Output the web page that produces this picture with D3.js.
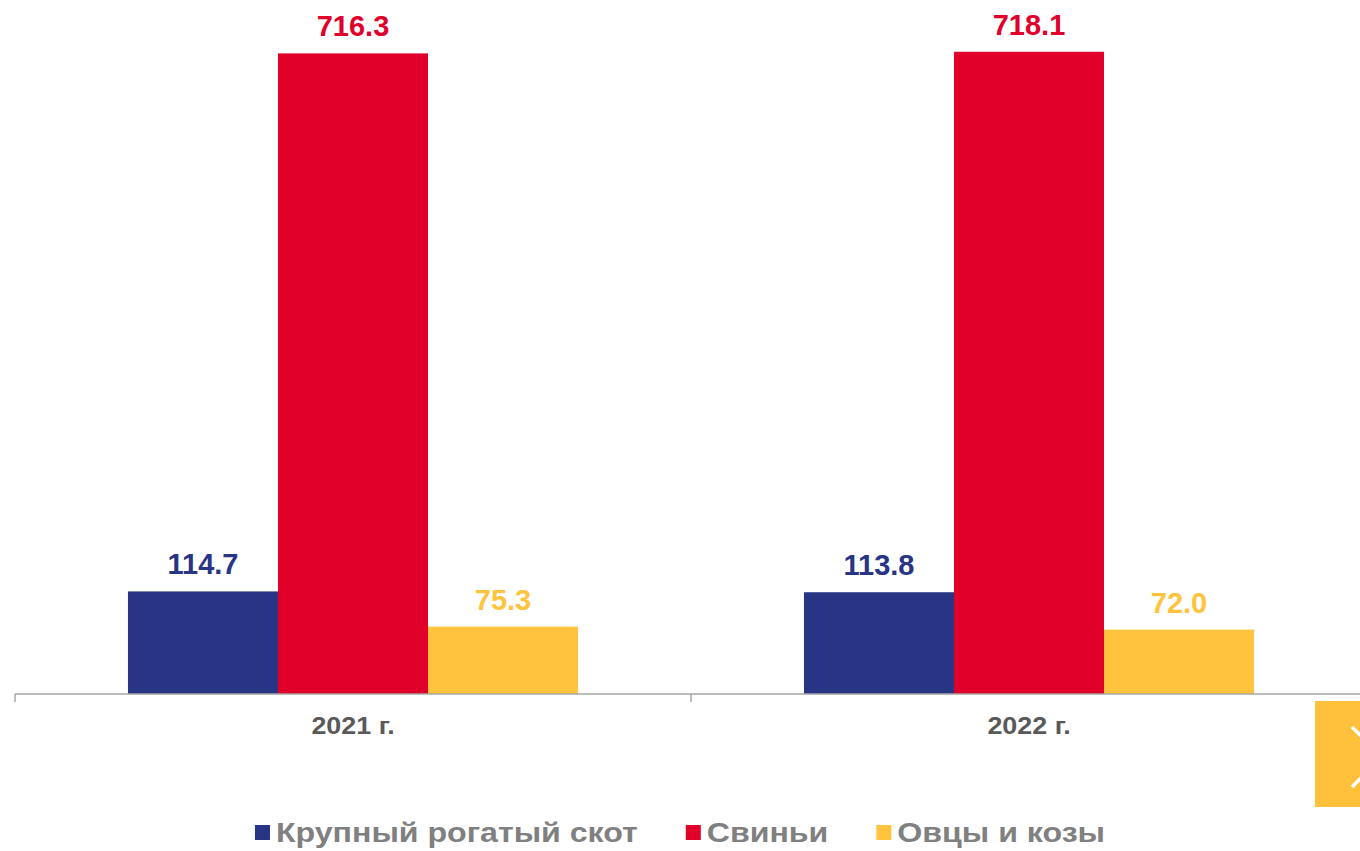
<!DOCTYPE html>
<html>
<head>
<meta charset="utf-8">
<script src="https://cdn.jsdelivr.net/npm/d3@7"></script>
<style>
  body { margin: 0; background: #fff; }
  svg { display: block; font-family: "Liberation Sans", Arial, sans-serif; }
</style>
</head>
<body>
<div id="chart"></div>
<script>
// chart data
const years = ["2021 г.", "2022 г."];
const seriesNames = ["Крупный рогатый скот", "Свиньи", "Овцы и козы"];
const seriesValues = [
  [114.7, 113.8],   // КРС
  [716.3, 718.1],   // свиньи
  [75.3, 72.0]      // овцы и козы
];
const seriesColors = ["#283584", "#E1002A", "#FFC33D"];

const width = 1360, height = 851;
const baseY = 694;

const svg = d3.select("#chart").append("svg")
  .attr("width", width)
  .attr("height", height);

const x0 = d3.scaleBand()
  .domain(years)
  .range([15, 1367])
  .padding(0);

const x1 = d3.scaleBand()
  .domain(seriesNames)
  .range([0, x0.bandwidth()])
  .paddingInner(0)
  .paddingOuter(0.753);

const y = d3.scaleLinear()
  .domain([0, 776])
  .range([baseY, 0]);

// flatten for bars
const barData = [];
years.forEach((yr, i) => {
  seriesNames.forEach((s, j) => {
    barData.push({ year: yr, series: s, value: seriesValues[j][i], color: seriesColors[j] });
  });
});

svg.append("g")
  .selectAll("rect")
  .data(barData)
  .join("rect")
  .attr("x", d => x0(d.year) + x1(d.series))
  .attr("y", d => y(d.value))
  .attr("width", x1.bandwidth())
  .attr("height", d => baseY - y(d.value))
  .attr("fill", d => d.color);

// value labels
svg.append("g")
  .selectAll("text")
  .data(barData)
  .join("text")
  .attr("x", d => x0(d.year) + x1(d.series) + x1.bandwidth() / 2)
  .attr("y", d => y(d.value) - 17)
  .attr("text-anchor", "middle")
  .style("font-size", "29px")
  .style("font-weight", "bold")
  .attr("fill", d => d.color)
  .text(d => d.value.toFixed(1));

// x axis
const axis = svg.append("g")
  .attr("transform", `translate(0,${baseY})`)
  .call(d3.axisBottom(x0).tickSize(0).tickFormat(""));
axis.select(".domain").remove();
axis.selectAll(".tick").remove();

axis.append("line")
  .attr("x1", 15).attr("x2", width)
  .attr("stroke", "#A6A6A6")
  .attr("stroke-width", 1.5);

axis.selectAll(".sep")
  .data(x0.domain().concat(["end"]))
  .join("line")
  .attr("class", "sep")
  .attr("x1", (d, i) => i < years.length ? x0(d) : x0.range()[1])
  .attr("x2", (d, i) => i < years.length ? x0(d) : x0.range()[1])
  .attr("y1", 0).attr("y2", 8)
  .attr("stroke", "#A6A6A6")
  .attr("stroke-width", 1.5);

// the original text is a bit wider than Arial, so stretch it horizontally
axis.selectAll(".cat")
  .data(years)
  .join("text")
  .attr("class", "cat")
  .attr("transform", d => `translate(${x0(d) + x0.bandwidth() / 2},40) scale(1.12,1)`)
  .attr("text-anchor", "middle")
  .style("font-size", "24px")
  .style("font-weight", "bold")
  .attr("fill", "#595959")
  .text(d => d);

// legend
const legend = svg.append("g");
const legendItems = legend.selectAll("g")
  .data(seriesNames)
  .join("g");

legendItems.append("rect")
  .attr("width", 15)
  .attr("height", 15)
  .attr("y", 825)
  .attr("fill", (d, i) => seriesColors[i]);

legendItems.append("text")
  .attr("transform", "translate(21,842) scale(1.19,1)")
  .style("font-size", "27px")
  .style("font-weight", "bold")
  .attr("fill", "#808080")
  .text(d => d);

// position legend items in a row, centred
const gap = 48;
const widths = [];
legendItems.each(function() {
  widths.push(this.getBBox().width);
});
const total = d3.sum(widths) + gap * (widths.length - 1);
let offset = (width - total) / 2;
legendItems.attr("transform", (d, i) => {
  const t = `translate(${offset},0)`;
  offset += widths[i] + gap;
  return t;
});

// nav button in the corner
svg.append("rect")
  .attr("x", 1315).attr("y", 701)
  .attr("width", 60).attr("height", 106)
  .attr("fill", "#FFC13B");
svg.append("path")
  .attr("d", "M1352,727 L1382,757 L1352,787")
  .attr("fill", "none")
  .attr("stroke", "#fff")
  .attr("stroke-width", 3.5);
</script>
</body>
</html>
